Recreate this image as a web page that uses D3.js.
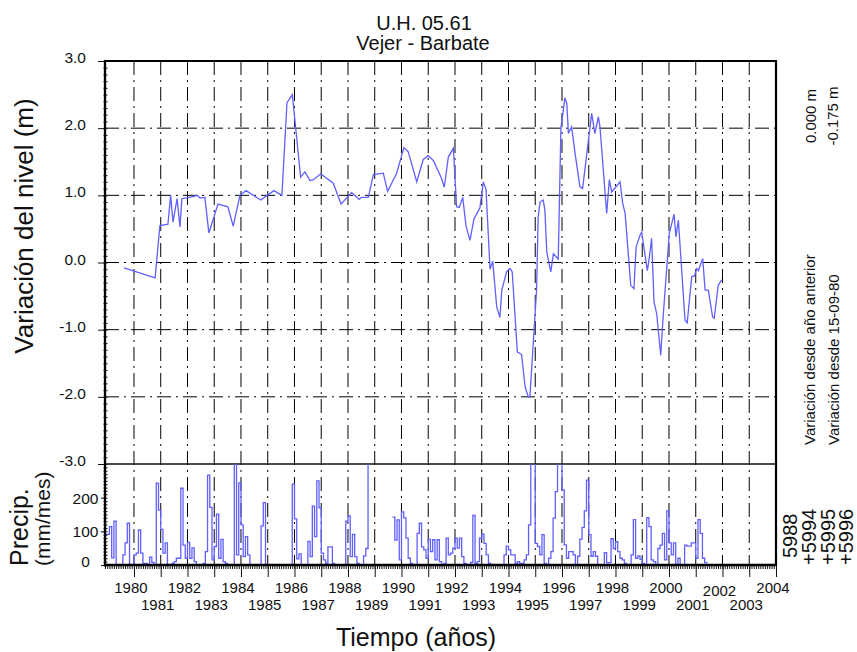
<!DOCTYPE html>
<html>
<head>
<meta charset="UTF-8">
<title>U.H. 05.61 - Vejer - Barbate</title>
<script src="https://cdnjs.cloudflare.com/ajax/libs/d3/7.8.5/d3.min.js"></script>
<style>
  body { margin: 0; background: #fff; }
  svg { display: block; font-family: "Liberation Sans", Arial, sans-serif; }
</style>
</head>
<body>
<script>
// water level (m), variation since 15-09-80
var levelYears = [1979.63, 1980.79, 1980.97, 1981.27, 1981.37, 1981.46, 1981.61, 1981.72, 1981.79, 1982.21,
  1982.36, 1982.47, 1982.65, 1982.80, 1983.14, 1983.51, 1983.71, 1983.96, 1984.19, 1984.74,
  1985.23, 1985.53, 1985.72, 1985.92, 1986.23, 1986.39, 1986.58, 1986.70, 1986.98, 1987.45,
  1987.74, 1988.14, 1988.42, 1988.51, 1988.76, 1988.95, 1989.32, 1989.48, 1989.82, 1990.09,
  1990.25, 1990.57, 1990.81, 1991.00, 1991.19, 1991.50, 1991.60, 1991.75, 1991.94, 1992.06,
  1992.16, 1992.29, 1992.41, 1992.56, 1992.71, 1992.93, 1993.06, 1993.16, 1993.31, 1993.41,
  1993.56, 1993.68, 1993.75, 1993.93, 1994.06, 1994.14, 1994.33, 1994.49, 1994.62, 1994.74,
  1994.80, 1995.05, 1995.11, 1995.18, 1995.30, 1995.36, 1995.43, 1995.58, 1995.68, 1995.86,
  1995.96, 1996.11, 1996.18, 1996.24, 1996.36, 1996.49, 1996.67, 1996.77, 1997.11, 1997.23,
  1997.36, 1997.42, 1997.67, 1997.77, 1997.86, 1998.17, 1998.27, 1998.36, 1998.57, 1998.69,
  1998.77, 1998.92, 1998.98, 1999.19, 1999.26, 1999.35, 1999.44, 1999.54, 1999.69, 1999.79,
  2000.01, 2000.19, 2000.26, 2000.35, 2000.60, 2000.68, 2000.85, 2000.95, 2001.04, 2001.10,
  2001.26, 2001.35, 2001.47, 2001.63, 2001.69, 2001.84, 2001.97];
var levelValues = [-0.08, -0.23, 0.55, 0.57, 1.0, 0.6, 0.95, 0.53, 0.95, 0.98,
  1.0, 0.96, 0.97, 0.44, 0.87, 0.83, 0.54, 1.0, 1.07, 0.93,
  1.07, 1.0, 2.38, 2.50, 1.27, 1.35, 1.22, 1.23, 1.32, 1.18,
  0.87, 1.04, 0.94, 0.97, 0.97, 1.31, 1.33, 1.06, 1.33, 1.71,
  1.65, 1.20, 1.53, 1.59, 1.52, 1.25, 1.12, 1.57, 1.70, 0.83,
  0.82, 0.97, 0.55, 0.33, 0.65, 0.81, 1.20, 1.09, -0.10, 0.02,
  -0.66, -0.82, -0.41, -0.14, -0.09, -0.14, -1.33, -1.37, -1.85, -2.0,
  -2.0, -0.41, 0.68, 0.90, 0.93, 0.78, 0.16, -0.14, 0.13, 0.05,
  2.0, 2.45, 2.37, 1.92, 2.02, 1.62, 1.13, 1.10, 2.22, 1.92,
  2.17, 2.02, 0.73, 1.23, 1.05, 1.20, 0.88, 0.73, -0.34, -0.39,
  0.23, 0.41, 0.45, -0.12, 0.06, 0.36, -0.59, -0.76, -1.38, -0.76,
  0.43, 0.72, 0.38, 0.63, -0.86, -0.90, -0.21, -0.20, -0.09, -0.12,
  0.06, -0.41, -0.41, -0.81, -0.83, -0.34, -0.26];

// monthly precipitation (mm/mes), first month Dec 1978, null = no data
var precipStart = 1978.917;
var precipValues = [91, 91, 114, 21, 130, 0, 0, 0, 30, 66,
  124, 0, 0, 30, 35, 104, 35, 5, 5, 0,
  23, 8, 0, 243, 163, 106, 35, 66, 0, 0,
  5, 10, 20, 20, 228, 59, 20, 67, 20, 51,
  10, 0, 0, 0, 5, 40, 267, 171, 15, 55,
  151, 20, 76, 10, 5, 0, 0, 0, 320, 30,
  244, 119, 25, 84, 30, 0, 0, 0, 0, 0,
  116, 185, 0, 0, 0, 0, 0, 0, 0, 0,
  0, 0, 0, 0, 240, 137, 18, 33, 0, 0,
  0, 70, 25, 175, 84, 250, 170, 35, 15, 5,
  54, 54, 5, 0, 0, 0, 0, 0, 130, 146,
  25, 91, 25, 5, 0, 0, 27, 49, 320, null,
  null, null, null, null, null, null, null, null, null, 142,
  74, 134, 15, 158, 140, 80, 20, 5, 0, 0,
  94, 124, 54, 45, 20, 76, 40, 75, 15, 75,
  10, 0, 5, 80, 30, 35, 50, 80, 50, 80,
  25, 5, 0, 0, 8, 147, 5, 10, 80, 92,
  64, 30, 5, 0, 0, 0, 0, 0, 0, 30,
  56, 45, 30, 30, 5, 10, 5, 5, 15, 30,
  119, 320, 320, 64, 55, 30, 90, 5, 0, 20,
  40, 139, 218, 320, 320, 223, 60, 20, 40, 40,
  30, 0, 26, 77, 112, 161, 252, 90, 26, 40,
  26, 0, 0, 0, 37, 7, 7, 78, 49, 69,
  40, 20, 15, 5, 0, 0, 30, 135, 20, 27,
  17, 5, 0, 141, 114, 15, 10, 0, 49, 59,
  94, 15, 161, 66, 30, 66, 0, 20, 0, 0,
  59, 56, 56, 66, 66, 20, 135, 94, 20, 7,
  5];

var yearLabels = [1980, 1981, 1982, 1983, 1984, 1985, 1986, 1987, 1988, 1989, 1990, 1991, 1992,
  1993, 1994, 1995, 1996, 1997, 1998, 1999, 2000, 2001, 2002, 2003, 2004];
var levelTicks = [-3, -2, -1, 0, 1, 2, 3];
var precipTicks = [0, 100, 200];
var wellLabels = ["5988", "+5994", "+5995", "+5996"];

//layout (plotTop, not top: window.top is read only)
var W = 857, H = 652;
var plotLeft = 105, plotRight = 776, plotTop = 61, plotMid = 464, plotBottom = 565;
var blue = "#6060ff";
var dash = "14,5,2,5";

var svg = d3.select("body").append("svg").attr("width", W).attr("height", H);

//scales
var x = d3.scaleLinear().domain([precipStart, 2004]).range([plotLeft, plotRight]);
var yLev = d3.scaleLinear().domain([-3, 3]).range([plotMid, plotTop]);
var yPre = d3.scaleLinear().domain([0, 300]).range([plotBottom, plotMid]);

//grid
svg.append("g").selectAll("line")
  .data(yearLabels.filter(d => d < 2004))
  .enter().append("line")
  .attr("x1", d => x(d)).attr("x2", d => x(d))
  .attr("y1", plotTop).attr("y2", plotBottom)
  .attr("stroke", "#000").attr("stroke-width", 1)
  .attr("stroke-dasharray", dash);

svg.append("g").selectAll("line")
  .data(levelTicks.filter(d => Math.abs(d) < 3))
  .enter().append("line")
  .attr("x1", plotLeft).attr("x2", plotRight)
  .attr("y1", d => yLev(d)).attr("y2", d => yLev(d))
  .attr("stroke", "#000").attr("stroke-width", 1)
  .attr("stroke-dasharray", dash);

// panel divider at -3.0
svg.append("line")
  .attr("x1", plotLeft).attr("x2", plotRight).attr("y1", yLev(-3)).attr("y2", yLev(-3))
  .attr("stroke", "#111").attr("stroke-width", 1.3);

//level line
var levelLine = d3.line()
  .x((d, i) => x(levelYears[i]))
  .y(d => yLev(d));
svg.append("path")
  .datum(levelValues)
  .attr("d", levelLine)
  .attr("fill", "none").attr("stroke", blue).attr("stroke-width", 1.3);

//precip steps
svg.append("clipPath").attr("id", "clipP")
  .append("rect").attr("x", plotLeft).attr("y", plotMid)
  .attr("width", plotRight - plotLeft).attr("height", plotBottom - plotMid);

var precipData = precipValues.map((v, i) => ({ t: precipStart + i / 12, v: v }));
var precipLine = d3.line()
  .defined(d => d.v !== null)
  .x(d => x(d.t))
  .y(d => yPre(d.v))
  .curve(d3.curveStepAfter);
svg.append("path")
  .datum(precipData)
  .attr("clip-path", "url(#clipP)")
  .attr("d", precipLine)
  .attr("fill", "none").attr("stroke", blue).attr("stroke-width", 1.3);

//axes
var levAxis = svg.append("g")
  .attr("transform", `translate(${plotLeft + 1},0)`)
  .call(d3.axisLeft(yLev).tickValues(levelTicks).tickSize(8).tickPadding(12)
    .tickFormat(d => d.toFixed(1)));
levAxis.select(".domain").remove();
levAxis.selectAll("text").attr("dy", "0.1em").style("font-size", "15.5px")
  .style("font-family", "Liberation Sans, Arial, sans-serif").attr("fill", "#111");

var levMinor = svg.append("g")
  .attr("transform", `translate(${plotLeft + 2.5},0)`)
  .call(d3.axisLeft(yLev).tickValues(d3.range(-30, 31).map(k => k / 10)).tickSize(4).tickFormat(""));
levMinor.select(".domain").remove();

var preAxis = svg.append("g")
  .attr("transform", `translate(${plotLeft + 1},0)`)
  .call(d3.axisLeft(yPre).tickValues(precipTicks).tickSize(5).tickPadding(15)
    .tickFormat(d => d));
preAxis.select(".domain").remove();
preAxis.selectAll("text").attr("text-anchor", "middle").attr("x", -20.5)
  .attr("dy", d => d === 0 ? "0.1em" : "0.35em")
  .style("font-size", "15.5px").style("font-family", "Liberation Sans, Arial, sans-serif").attr("fill", "#111");

var preMinor = svg.append("g")
  .attr("transform", `translate(${plotLeft + 2.5},0)`)
  .call(d3.axisLeft(yPre).tickValues(d3.range(0, 300, 10)).tickSize(4).tickFormat(""));
preMinor.select(".domain").remove();

var xMajor = svg.append("g")
  .attr("transform", `translate(0,${plotBottom})`)
  .call(d3.axisBottom(x).tickValues(yearLabels).tickSize(12).tickFormat(""));
xMajor.select(".domain").remove();

var xMinor = svg.append("g")
  .attr("transform", `translate(0,${plotBottom})`)
  .call(d3.axisBottom(x).tickValues(d3.range(-13, 289).map(k => 1980 + k / 12)).tickSize(4).tickFormat(""));
xMinor.select(".domain").remove();

svg.selectAll(".tick line").attr("stroke", "#111");

// year labels in two rows
svg.append("g").selectAll("text")
  .data(yearLabels)
  .enter().append("text")
  .attr("x", d => x(d) - 3)
  .attr("y", d => d === 2002 ? 596 : (d % 2 === 0 ? 593 : 610))
  .attr("text-anchor", "middle")
  .style("font-size", "15px").attr("fill", "#111")
  .text(d => d);

//frame
svg.append("line").attr("x1", plotLeft).attr("x2", plotLeft).attr("y1", plotTop - 1).attr("y2", plotBottom + 1.5)
  .attr("stroke", "#000").attr("stroke-width", 2.3);
svg.append("line").attr("x1", plotLeft).attr("x2", plotRight + 1).attr("y1", plotTop).attr("y2", plotTop)
  .attr("stroke", "#000").attr("stroke-width", 2.2);
svg.append("line").attr("x1", plotRight).attr("x2", plotRight).attr("y1", plotTop).attr("y2", plotBottom)
  .attr("stroke", "#000").attr("stroke-width", 2.2);
svg.append("line").attr("x1", plotLeft).attr("x2", plotRight + 1).attr("y1", plotBottom).attr("y2", plotBottom)
  .attr("stroke", "#000").attr("stroke-width", 2.6);

//titles
svg.append("text").attr("x", 424).attr("y", 29.5).attr("text-anchor", "middle")
  .style("font-size", "20px").attr("fill", "#111").text("U.H. 05.61");
svg.append("text").attr("x", 423).attr("y", 50).attr("text-anchor", "middle")
  .style("font-size", "20px").attr("fill", "#111").text("Vejer - Barbate");

svg.append("text").attr("transform", "translate(33,226) rotate(-90)").attr("text-anchor", "middle")
  .style("font-size", "26px").attr("fill", "#111").text("Variación del nivel (m)");
svg.append("text").attr("x", 416).attr("y", 646).attr("text-anchor", "middle")
  .style("font-size", "25px").attr("fill", "#111").text("Tiempo (años)");

svg.append("text").attr("transform", "translate(28,566) rotate(-90)")
  .style("font-size", "25px").attr("fill", "#111").text("Precip.");
svg.append("text").attr("transform", "translate(50,566) rotate(-90)")
  .style("font-size", "21px").attr("fill", "#111").text("(mm/mes)");

// right side notes
svg.append("text").attr("transform", "translate(816,116) rotate(-90)").attr("text-anchor", "middle")
  .style("font-size", "15px").attr("fill", "#111").text("0.000 m");
svg.append("text").attr("transform", "translate(838,116) rotate(-90)").attr("text-anchor", "middle")
  .style("font-size", "15px").attr("fill", "#111").text("-0.175 m");
svg.append("text").attr("transform", "translate(815,445) rotate(-90)")
  .style("font-size", "15px").attr("fill", "#111").text("Variación desde año anterior");
svg.append("text").attr("transform", "translate(839,445) rotate(-90)")
  .style("font-size", "15px").attr("fill", "#111").text("Variación desde 15-09-80");

svg.append("g").selectAll("text")
  .data(wellLabels)
  .enter().append("text")
  .attr("transform", (d, i) => `translate(${[797, 816, 835, 853][i]},${i === 0 ? 558 : 565}) rotate(-90)`)
  .style("font-size", "20px").attr("fill", "#111")
  .text(d => d);
</script>
</body>
</html>
